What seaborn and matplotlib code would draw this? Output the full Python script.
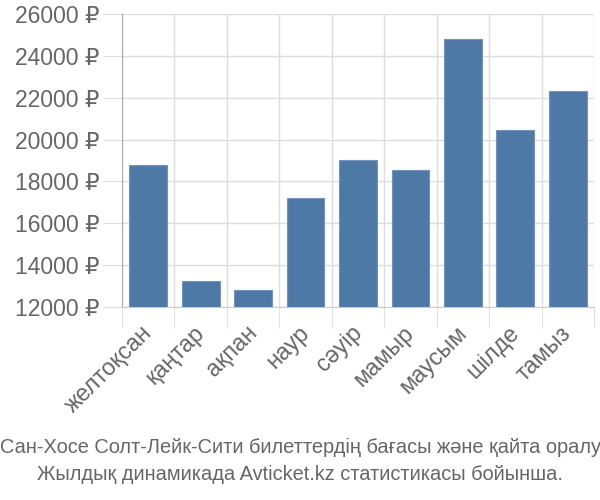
import matplotlib
matplotlib.use("Agg")
import matplotlib.pyplot as plt
import matplotlib.transforms as mtransforms
import seaborn as sns
import pandas as pd
import numpy as np

months = ["желтоқсан", "қаңтар", "ақпан", "наур", "сәуір", "мамыр", "маусым", "шілде", "тамыз"]
prices = [18800, 13250, 12800, 17200, 19000, 18550, 24800, 20480, 22320]
yticks = [12000, 14000, 16000, 18000, 20000, 22000, 24000, 26000]
caption = ["Сан-Хосе Солт-Лейк-Сити билеттердің бағасы және қайта оралу",
           "Жылдық динамикада Avticket.kz статистикасы бойынша."]

sns.set_style("white")
plt.rcParams['font.family'] = ['Liberation Sans', 'DejaVu Sans']

df = pd.DataFrame({"month": months, "price": prices})

fig = plt.figure(figsize=(6, 5), dpi=100)
ax = fig.add_axes([122/600, 1-307/500, (594-122)/600, (307-14)/500])

sns.barplot(data=df, x="month", y="price", ax=ax, color="#4e79a7",
            saturation=1, width=0.72, edgecolor="#7393bb", linewidth=0.8, zorder=3)

ax.set_ylim(12000, 26000)
ax.set_xlim(-0.5, len(months) - 0.5)
ax.set_yticks(yticks)
ax.set_yticklabels([f"{v} ₽" for v in yticks])
ax.set_xlabel("")
ax.set_ylabel("")

ax.set_xticks(np.arange(-0.5, len(months), 1.0), minor=True)
ax.grid(True, axis="y", color="#dddddd", linewidth=1, zorder=0)
ax.grid(True, axis="x", which="minor", color="#dddddd", linewidth=1, zorder=0)
ax.grid(False, axis="x", which="major")
ax.tick_params(axis="y", length=14, color="#dddddd", labelsize=16.5, labelcolor="#666666", pad=2, left=True)
ax.tick_params(axis="x", which="major", length=0, labelsize=16.8, labelcolor="#666666", pad=6)
ax.tick_params(axis="x", which="minor", length=15, color="#dddddd", bottom=True)
offset = mtransforms.ScaledTranslation(-8/100, -6/100, fig.dpi_scale_trans)
for lbl in ax.get_xticklabels():
    lbl.set_rotation(45)
    lbl.set_ha("right")
    lbl.set_rotation_mode("anchor")
    lbl.set_transform(lbl.get_transform() + offset)

for s in ["top", "right"]:
    ax.spines[s].set_visible(False)
ax.spines["left"].set_color("#aaaaaa")
ax.spines["bottom"].set_color("#cccccc")

fig.text(0.5, 1 - 447/500, caption[0], ha="center", va="center", fontsize=14.4, color="#666666")
fig.text(0.5, 1 - 475/500, caption[1], ha="center", va="center", fontsize=14.4, color="#666666")

fig.savefig("out.png", dpi=100)
